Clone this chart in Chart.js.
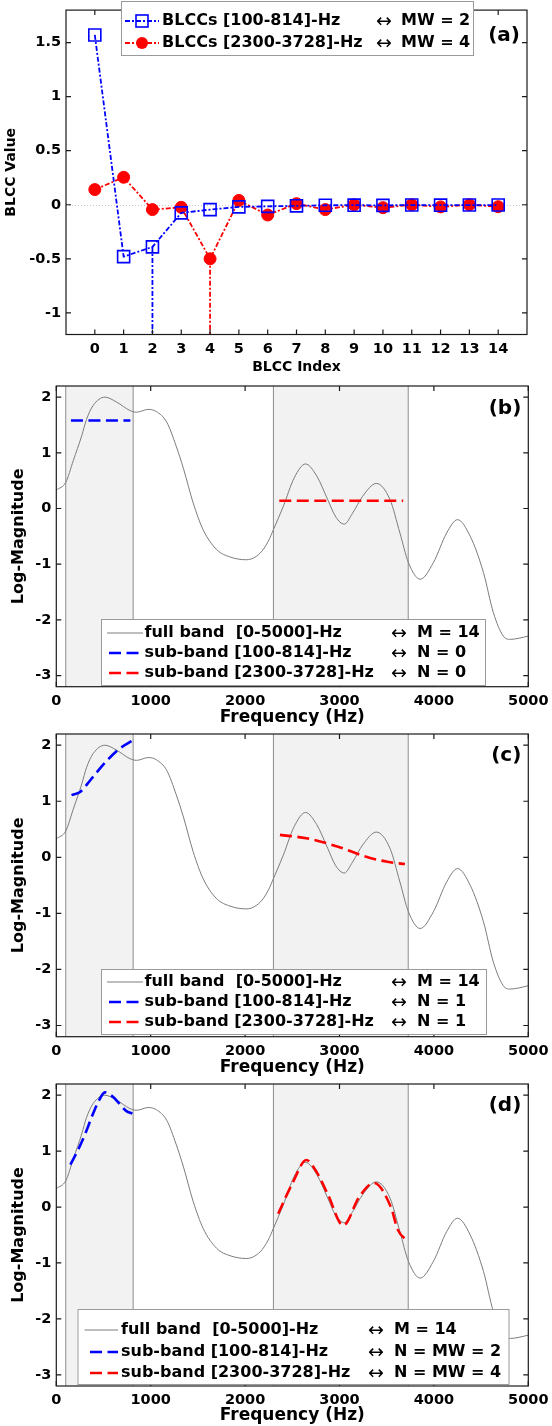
<!DOCTYPE html>
<html>
<head>
<meta charset="utf-8">
<title>BLCC sub-band approximation</title>
<script src="https://cdn.jsdelivr.net/npm/chart.js@4.4.1/dist/chart.umd.min.js"></script>
<style>
  html, body { margin: 0; padding: 0; background: #fff; }
  #page { position: relative; width: 552px; height: 1426px; overflow: hidden; background: #fff; }
  canvas { position: absolute; left: 0; }
</style>
</head>
<body>
<div id="page">
  <canvas id="chart-a" width="552" height="380" style="top:0px"></canvas>
  <canvas id="chart-b" width="552" height="348" style="top:380px"></canvas>
  <canvas id="chart-c" width="552" height="350" style="top:728px"></canvas>
  <canvas id="chart-d" width="552" height="348" style="top:1078px"></canvas>
</div>
<script>
// Panel (a): BLCC values per index
const blccIndex = [0, 1, 2, 3, 4, 5, 6, 7, 8, 9, 10, 11, 12, 13, 14];
const blccLow = [1.57, -0.48, -0.39, -0.075, -0.045, -0.02, -0.015, -0.01, -0.005, -0.004, -0.006, -0.003, -0.004, -0.003, -0.003];
const blccHigh = [0.14, 0.254, -0.045, -0.024, -0.50, 0.04, -0.095, 0.01, -0.045, 0.0, -0.027, 0.0, -0.02, 0.0, -0.018];
const mwLow = 2;
const mwHigh = 4;
const blccYTicks = [-1, -0.5, 0, 0.5, 1, 1.5];

// Panels (b)-(d): full-band log-magnitude envelope
const freqHz = [0, 100, 180, 270, 320, 390, 515, 640, 780, 850, 975, 1060, 1170, 1270, 1350, 1450, 1555, 1700, 1840, 2015,
  2160, 2245, 2300, 2405, 2520, 2640, 2760, 2875, 2960, 3050, 3140, 3245, 3390, 3535, 3640, 3730, 3855, 3995, 4135, 4250,
  4385, 4525, 4630, 4735, 4810, 4900, 5000];
const logMag = [0.33, 0.47, 0.86, 1.31, 1.60, 1.85, 2.00, 1.91, 1.76, 1.73, 1.78, 1.74, 1.55, 1.12, 0.70, 0.10, -0.38, -0.74, -0.87, -0.92,
  -0.80, -0.59, -0.38, 0.04, 0.55, 0.80, 0.58, 0.16, -0.15, -0.28, -0.08, 0.22, 0.45, 0.16, -0.44, -0.97, -1.27, -0.97, -0.44, -0.20,
  -0.50, -1.15, -1.87, -2.29, -2.35, -2.33, -2.29];
const bandLow = [100, 814];
const bandHigh = [2300, 3728];
const freqTicks = [0, 1000, 2000, 3000, 4000, 5000];
const magTicks = [-3, -2, -1, 0, 1, 2];

// (b) N = 0
const n0LowFreq = [155, 785];
const n0LowMag = [1.58, 1.58];
const n0HighFreq = [2362, 3675];
const n0HighMag = [0.14, 0.14];
// (c) N = 1
const n1LowFreq = [161, 256, 362, 522, 672, 806];
const n1LowMag = [1.11, 1.17, 1.38, 1.70, 1.94, 2.08];
const n1HighFreq = [2369, 2649, 2984, 3283, 3507, 3693];
const n1HighMag = [0.40, 0.34, 0.19, 0.01, -0.08, -0.12];
// (d) N = MW
const nmwLowFreq = [149, 230, 299, 392, 450, 515, 600, 672, 740, 806];
const nmwLowMag = [0.76, 1.02, 1.28, 1.68, 1.90, 2.05, 1.97, 1.84, 1.72, 1.67];
const nmwHighFreq = [2350, 2500, 2649, 2760, 2873, 3040, 3208, 3365, 3544, 3619, 3731];
const nmwHighMag = [-0.12, 0.42, 0.84, 0.62, 0.24, -0.33, 0.18, 0.43, 0.0, -0.41, -0.62];

// legend texts
const blccNames = ['BLCCs [100-814]-Hz', 'BLCCs [2300-3728]-Hz'];
const blccOrders = ['MW = 2', 'MW = 4'];
const bandNames = ['full band  [0-5000]-Hz', 'sub-band [100-814]-Hz', 'sub-band [2300-3728]-Hz'];
const ordersB = ['M = 14', 'N = 0', 'N = 0'];
const ordersC = ['M = 14', 'N = 1', 'N = 1'];
const ordersD = ['M = 14', 'N = MW = 2', 'N = MW = 4'];

const FONT = '"DejaVu Sans", "Liberation Sans", Arial, sans-serif';
const BLUE = '#0000ff';
const RED = '#ff0000';
const GREY = '#7c7c7c';

const zip = (xs, ys) => xs.map((x, i) => ({x: x, y: ys[i]}));

// MATLAB-like frame: shaded bands, inward ticks, legend box, panel letter
const frame = {
    id: 'frame',
    beforeDatasetsDraw(chart, args, o) {
        const {ctx, chartArea: a} = chart;
        const xs = chart.scales.x, ys = chart.scales.y;
        ctx.save();
        (o.bands || []).forEach(b => {
            const x0 = xs.getPixelForValue(b[0]);
            const x1 = xs.getPixelForValue(b[1]);
            ctx.fillStyle = '#f2f2f2';
            ctx.fillRect(x0, a.top, x1 - x0, a.bottom - a.top);
            ctx.strokeStyle = '#8c8c8c';
            ctx.lineWidth = 1;
            [x0, x1].forEach(px => {
                ctx.beginPath();
                ctx.moveTo(px, a.top);
                ctx.lineTo(px, a.bottom);
                ctx.stroke();
            });
        });
        if (o.zeroLine) {
            const py = Math.round(ys.getPixelForValue(0)) + 0.5;
            ctx.strokeStyle = '#c8c8c8';
            ctx.lineWidth = 1;
            ctx.setLineDash([1, 2]);
            ctx.beginPath();
            ctx.moveTo(a.left, py);
            ctx.lineTo(a.right, py);
            ctx.stroke();
        }
        ctx.restore();
    },
    afterDatasetsDraw(chart) {
        const {ctx, chartArea: a} = chart;
        const xs = chart.scales.x, ys = chart.scales.y;
        const tl = 5;
        ctx.save();
        ctx.strokeStyle = '#1a1a1a';
        ctx.lineWidth = 1.2;
        ctx.strokeRect(a.left, a.top, a.right - a.left, a.bottom - a.top);
        ctx.beginPath();
        xs.ticks.forEach(t => {
            const px = xs.getPixelForValue(t.value);
            ctx.moveTo(px, a.bottom); ctx.lineTo(px, a.bottom - tl);
            ctx.moveTo(px, a.top); ctx.lineTo(px, a.top + tl);
        });
        ys.ticks.forEach(t => {
            const py = ys.getPixelForValue(t.value);
            ctx.moveTo(a.left, py); ctx.lineTo(a.left + tl, py);
            ctx.moveTo(a.right, py); ctx.lineTo(a.right - tl, py);
        });
        ctx.stroke();
        ctx.restore();
    },
    afterDraw(chart, args, o) {
        const {ctx, chartArea: a} = chart;
        const L = o.legend;
        ctx.save();
        if (L) {
            ctx.fillStyle = '#fff';
            ctx.fillRect(L.x, L.y, L.w, L.h);
            ctx.strokeStyle = '#9a9a9a';
            ctx.lineWidth = 1;
            ctx.strokeRect(L.x + 0.5, L.y + 0.5, L.w, L.h);
            L.entries.forEach((e, i) => {
                const ry = L.rows[i];
                const s = e.sample || L.sample;
                ctx.strokeStyle = e.color;
                ctx.lineWidth = e.width;
                ctx.setLineDash(e.dash || []);
                ctx.beginPath();
                ctx.moveTo(s[0], ry);
                ctx.lineTo(s[1], ry);
                ctx.stroke();
                ctx.setLineDash([]);
                const mx = (s[0] + s[1]) / 2;
                if (e.marker === 'rect') {
                    ctx.lineWidth = 1.6;
                    ctx.strokeRect(mx - 6, ry - 6, 12, 12);
                } else if (e.marker === 'circle') {
                    ctx.fillStyle = e.color;
                    ctx.beginPath();
                    ctx.arc(mx, ry, 6, 0, Math.PI * 2);
                    ctx.fill();
                }
                ctx.fillStyle = '#000';
                ctx.textBaseline = 'middle';
                ctx.textAlign = 'left';
                ctx.font = 'bold 16px ' + FONT;
                ctx.fillText(e.text, L.textX, ry);
                ctx.font = '19px ' + FONT;
                ctx.fillText('\u2194', L.arrowX, ry + 1);
                ctx.font = 'bold 16px ' + FONT;
                ctx.fillText(e.value, L.valueX, ry);
            });
        }
        if (o.label) {
            ctx.fillStyle = '#000';
            ctx.font = 'bold 20px ' + FONT;
            ctx.textAlign = 'right';
            ctx.textBaseline = 'middle';
            ctx.fillText(o.label, a.right - 7, a.top + o.labelDy);
        }
        ctx.restore();
    }
};

const tickFont = {family: FONT, size: 14.5, weight: 'bold'};

function axisX(min, max, ticks, height, pad, title, titleSize, titlePad) {
    return {
        type: 'linear', position: 'bottom', min: min, max: max,
        grid: {display: false, drawTicks: false}, border: {display: false},
        ticks: {color: '#000', font: tickFont, padding: pad, autoSkip: false, maxRotation: 0,
            callback: v => String(v)},
        title: {display: true, text: title, color: '#000',
            font: {family: FONT, size: titleSize, weight: 'bold'}, padding: {top: 0, bottom: titlePad}},
        afterBuildTicks: s => { s.ticks = ticks.map(v => ({value: v})); },
        afterFit: s => { s.height = height; s.paddingLeft = 0; s.paddingRight = 0; }
    };
}

function axisY(min, max, ticks, width, title, titleSize, titlePad) {
    return {
        type: 'linear', position: 'left', min: min, max: max,
        grid: {display: false, drawTicks: false}, border: {display: false},
        ticks: {color: '#000', font: tickFont, padding: 5, autoSkip: false,
            callback: v => String(v)},
        title: {display: true, text: title, color: '#000',
            font: {family: FONT, size: titleSize, weight: 'bold'}, padding: {top: titlePad, bottom: 0}},
        afterBuildTicks: s => { s.ticks = ticks.map(v => ({value: v})); },
        afterFit: s => { s.width = width; s.paddingTop = 0; s.paddingBottom = 0; }
    };
}

// ---------- panel (a) ----------
const yMinA = -1.2;
new Chart(document.getElementById('chart-a'), {
    type: 'line',
    data: {
        datasets: [
            {
                data: zip(blccIndex, blccLow),
                borderColor: BLUE, borderWidth: 1.8, borderDash: [5, 2, 2, 2],
                pointStyle: 'rect', pointRadius: 8.5, pointBorderWidth: 1.6,
                pointBorderColor: BLUE, pointBackgroundColor: 'rgba(0,0,0,0)', tension: 0
            },
            {
                data: zip(blccIndex, blccHigh),
                borderColor: RED, borderWidth: 1.8, borderDash: [5, 2, 2, 2],
                pointStyle: 'circle', pointRadius: 6, pointBorderWidth: 1,
                pointBorderColor: RED, pointBackgroundColor: RED, tension: 0
            },
            {
                data: [{x: mwLow, y: blccLow[mwLow]}, {x: mwLow, y: yMinA}],
                borderColor: BLUE, borderWidth: 1.8, borderDash: [5, 2, 2, 2], pointRadius: 0
            },
            {
                data: [{x: mwHigh, y: blccHigh[mwHigh]}, {x: mwHigh, y: yMinA}],
                borderColor: RED, borderWidth: 1.8, borderDash: [5, 2, 2, 2], pointRadius: 0
            }
        ]
    },
    options: {
        responsive: false, animation: false, devicePixelRatio: 1,
        layout: {padding: {top: 1, right: 25, left: 0, bottom: 0}},
        scales: {
            x: axisX(-1, 15, blccIndex, 45.5, 6.5, 'BLCC Index', 14, 4.6),
            y: axisY(yMinA, 1.8, blccYTicks, 66, 'BLCC Value', 14, 2.6)
        },
        plugins: {
            legend: {display: false}, tooltip: {enabled: false},
            frame: {
                zeroLine: true, label: '(a)', labelDy: 26,
                legend: {
                    x: 121, y: 1, w: 352, h: 54, rows: [21, 43], sample: [125, 159],
                    textX: 162, arrowX: 376, valueX: 401,
                    entries: [
                        {text: blccNames[0], value: blccOrders[0], color: BLUE, width: 1.8, dash: [5, 2, 2, 2], marker: 'rect'},
                        {text: blccNames[1], value: blccOrders[1], color: RED, width: 1.8, dash: [5, 2, 2, 2], marker: 'circle'}
                    ]
                }
            }
        }
    },
    plugins: [frame]
});

// ---------- panels (b)-(d) ----------
function spectrumPanel(id, low, high, orders, label, geo) {
    const subDash = [12, 5.5];
    return new Chart(document.getElementById(id), {
        type: 'line',
        data: {
            datasets: [
                {data: low, borderColor: BLUE, borderWidth: 2.6, borderDash: subDash, pointRadius: 0,
                    cubicInterpolationMode: 'monotone'},
                {data: high, borderColor: RED, borderWidth: 2.6, borderDash: subDash, pointRadius: 0,
                    cubicInterpolationMode: 'monotone'},
                {data: zip(freqHz, logMag), borderColor: GREY, borderWidth: 1, pointRadius: 0,
                    cubicInterpolationMode: 'monotone'}
            ]
        },
        options: {
            responsive: false, animation: false, devicePixelRatio: 1,
            layout: {padding: {top: 6, right: 23.7, left: 0, bottom: 0}},
            scales: {
                x: axisX(0, 5000, freqTicks, geo.xh, 5.5, 'Frequency (Hz)', 17, 0),
                y: axisY(-3.2, 2.2, magTicks, 56.3, 'Log-Magnitude', 16, 9)
            },
            plugins: {
                legend: {display: false}, tooltip: {enabled: false},
                frame: {
                    bands: [bandLow, bandHigh], label: label, labelDy: geo.labelDy,
                    legend: {
                        x: geo.lx, y: geo.ly, w: geo.lw, h: geo.lh, rows: geo.rows,
                        sample: geo.dashSample, textX: geo.textX, arrowX: geo.arrowX, valueX: geo.valueX,
                        entries: [
                            {text: bandNames[0], value: orders[0], color: GREY, width: 1, sample: geo.solidSample},
                            {text: bandNames[1], value: orders[1], color: BLUE, width: 2.6, dash: subDash},
                            {text: bandNames[2], value: orders[2], color: RED, width: 2.6, dash: subDash}
                        ]
                    }
                }
            }
        },
        plugins: [frame]
    });
}

spectrumPanel('chart-b', zip(n0LowFreq, n0LowMag), zip(n0HighFreq, n0HighMag), ordersB, '(b)', {
    xh: 41.3, labelDy: 23, lx: 101, ly: 239, lw: 384, lh: 66, rows: [253, 273, 293],
    solidSample: [107, 143], dashSample: [109, 139], textX: 144.5, arrowX: 391, valueX: 417
});
spectrumPanel('chart-c', zip(n1LowFreq, n1LowMag), zip(n1HighFreq, n1HighMag), ordersC, '(c)', {
    xh: 41.3, labelDy: 22, lx: 101, ly: 241, lw: 385, lh: 65, rows: [254, 274, 294],
    solidSample: [107, 143], dashSample: [109, 139], textX: 144.5, arrowX: 391, valueX: 417
});
spectrumPanel('chart-d', zip(nmwLowFreq, nmwLowMag), zip(nmwHighFreq, nmwHighMag), ordersD, '(d)', {
    xh: 40, labelDy: 22, lx: 77.5, ly: 231, lw: 431, lh: 75, rows: [252, 274, 295],
    solidSample: [84.5, 118], dashSample: [90, 118], textX: 121, arrowX: 368, valueX: 394
});
</script>
</body>
</html>
